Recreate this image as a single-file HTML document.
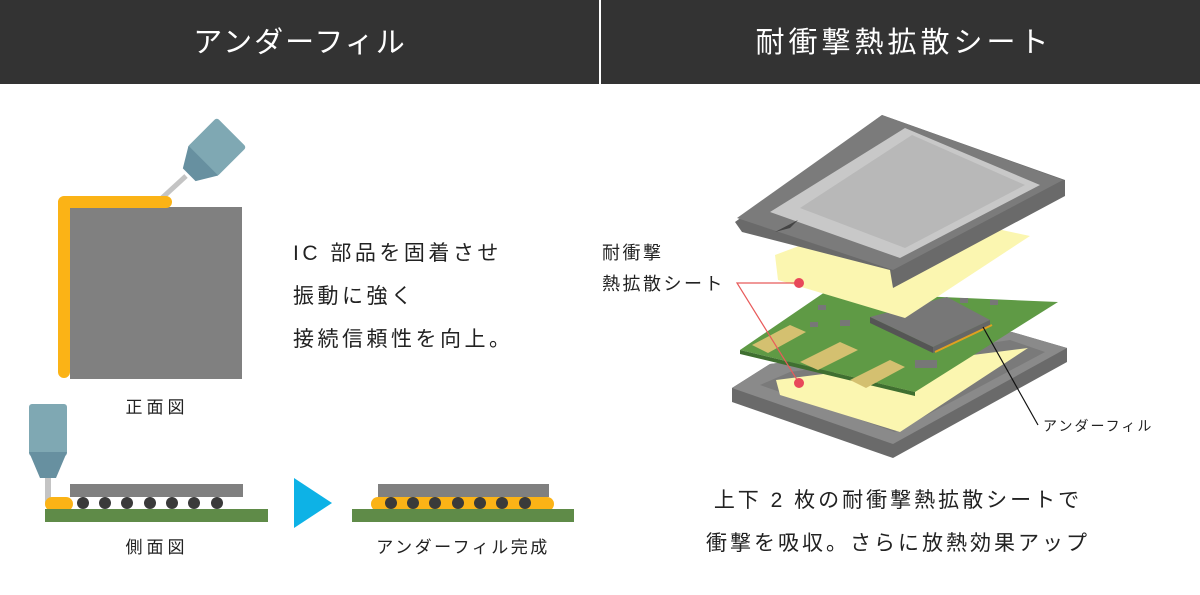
<!DOCTYPE html>
<html><head><meta charset="utf-8"><style>
html,body{margin:0;padding:0;background:#fff}
svg{display:block}
text{font-family:"Liberation Sans","Noto Sans CJK JP",sans-serif}
</style></head><body>
<svg width="1200" height="595" viewBox="0 0 1200 595" xmlns="http://www.w3.org/2000/svg">
<rect x="0" y="0" width="1200" height="84" fill="#333333"/>
<rect x="599" y="0" width="2" height="84" fill="#ffffff"/>
<text x="300" y="52" fill="#fff" font-size="29" text-anchor="middle" letter-spacing="2">アンダーフィル</text>
<text x="904" y="52" fill="#fff" font-size="29" text-anchor="middle" letter-spacing="4">耐衝撃熱拡散シート</text>

<!-- front view -->
<line x1="162" y1="198" x2="186" y2="176" stroke="#c4c4c4" stroke-width="5"/>
<g transform="translate(209,155) rotate(45)">
<rect x="-21" y="-32" width="42" height="42" rx="3" fill="#7fa8b3"/>
<polygon points="-21,8 21,8 9,28 -9,28" fill="#6790a0"/>
</g>
<rect x="70" y="207" width="172" height="172" fill="#808080"/>
<path d="M64 372 V202 H166" stroke="#fbb316" stroke-width="12" fill="none" stroke-linecap="round" stroke-linejoin="round"/>
<text x="157" y="413" font-size="17" text-anchor="middle" fill="#222" letter-spacing="4">正面図</text>

<text x="293" y="260" font-size="21" fill="#222" letter-spacing="3.5">IC 部品を固着させ</text>
<text x="293" y="303" font-size="21" fill="#222" letter-spacing="3.5">振動に強く</text>
<text x="293" y="346" font-size="21" fill="#222" letter-spacing="3.5">接続信頼性を向上。</text>

<!-- side view -->
<rect x="29" y="404" width="38" height="52" rx="3" fill="#7fa8b3"/>
<polygon points="29,452 67,452 56,478 40,478" fill="#6790a0"/>
<rect x="45" y="478" width="6" height="26" fill="#c4c4c4"/>
<rect x="70" y="484" width="173" height="13" fill="#808080"/>
<rect x="45" y="497" width="28" height="14" rx="7" fill="#fbb316"/>
<g fill="#3a3a3a">
<circle cx="83" cy="503" r="6"/><circle cx="105" cy="503" r="6"/><circle cx="127" cy="503" r="6"/><circle cx="150" cy="503" r="6"/><circle cx="172" cy="503" r="6"/><circle cx="194" cy="503" r="6"/><circle cx="217" cy="503" r="6"/>
</g>
<rect x="45" y="509" width="223" height="13" fill="#5f8b48"/>
<text x="157" y="553" font-size="17" text-anchor="middle" fill="#222" letter-spacing="4">側面図</text>

<polygon points="294,478 332,503 294,528" fill="#0db2e6"/>

<rect x="378" y="484" width="171" height="13" fill="#808080"/>
<rect x="371" y="497" width="183" height="14" rx="7" fill="#fbb316"/>
<g fill="#3a3a3a">
<circle cx="391" cy="503" r="6"/><circle cx="413" cy="503" r="6"/><circle cx="435" cy="503" r="6"/><circle cx="458" cy="503" r="6"/><circle cx="480" cy="503" r="6"/><circle cx="502" cy="503" r="6"/><circle cx="525" cy="503" r="6"/>
</g>
<rect x="352" y="509" width="222" height="13" fill="#5f8b48"/>
<text x="463" y="553" font-size="17" text-anchor="middle" fill="#222" letter-spacing="2.5">アンダーフィル完成</text>

<!-- right: tray -->
<polygon points="732,388 770,364 1012,332 1067,348 1067,362 893,458 732,402" fill="#6a6a6a"/>
<polygon points="732,388 770,364 1012,332 1067,348 893,444" fill="#8a8a8a"/>
<polygon points="760,385 790,372 1010,340 1045,352 895,432" fill="#7a7a7a"/>
<polygon points="776,380 1028,348 900,432 780,395" fill="#fbf6b0"/>
<!-- pcb -->
<polygon points="740,350 825,292 1058,302 915,392" fill="#5f9a45"/>
<polygon points="740,350 915,392 915,396 740,354" fill="#3f6f30"/>
<g fill="#d4c070">
<polygon points="752,345 790,325 806,332 768,353"/>
<polygon points="800,362 840,342 858,350 818,370"/>
<polygon points="850,380 890,360 905,367 866,388"/>
</g>
<polygon points="870,317 947,297 990,320 933,347" fill="#777"/>
<polygon points="870,317 933,347 933,353 870,323" fill="#555"/>
<polygon points="933,347 990,320 990,326 933,353" fill="#666"/>
<line x1="935" y1="352" x2="992" y2="325" stroke="#e0a020" stroke-width="2"/>
<g fill="#777"><rect x="818" y="305" width="8" height="5"/><rect x="840" y="320" width="10" height="6"/><rect x="810" y="322" width="8" height="5"/><rect x="960" y="298" width="8" height="5"/><rect x="990" y="300" width="8" height="5"/><rect x="915" y="360" width="22" height="8"/></g>
<!-- upper sheet -->
<polygon points="775,255 900,208 1030,236 905,318 778,280" fill="#fbf6b0"/>
<!-- lid -->
<polygon points="735,222 882,115 1065,180 1065,196 893,288 890,270 742,232" fill="#6a6a6a"/>
<polygon points="737,218 882,115 1063,180 893,270" fill="#7b7b7b"/>
<polygon points="770,212 905,128 1040,185 900,258" fill="#c8c8c8"/>
<polygon points="800,208 912,135 1025,185 905,248" fill="#b8b8b8"/>
<polygon points="775,232 798,220 790,228" fill="#444"/>

<!-- labels -->
<text x="602" y="259" font-size="18" fill="#222" letter-spacing="2.5">耐衝撃</text>
<text x="602" y="290" font-size="18" fill="#222" letter-spacing="2.5">熱拡散シート</text>
<polyline points="799,283 737,283 799,383" fill="none" stroke="#e85b5b" stroke-width="1.2"/>
<circle cx="799" cy="283" r="5" fill="#e8485a"/>
<circle cx="799" cy="383" r="5" fill="#e8485a"/>
<line x1="983" y1="327" x2="1038" y2="425" stroke="#111" stroke-width="1.2"/>
<text x="1043" y="431" font-size="14" fill="#222" letter-spacing="2">アンダーフィル</text>

<text x="898" y="507" font-size="21" fill="#222" text-anchor="middle" letter-spacing="3">上下 2 枚の耐衝撃熱拡散シートで</text>
<text x="898" y="550" font-size="21" fill="#222" text-anchor="middle" letter-spacing="3">衝撃を吸収。さらに放熱効果アップ</text>
</svg>
</body></html>
